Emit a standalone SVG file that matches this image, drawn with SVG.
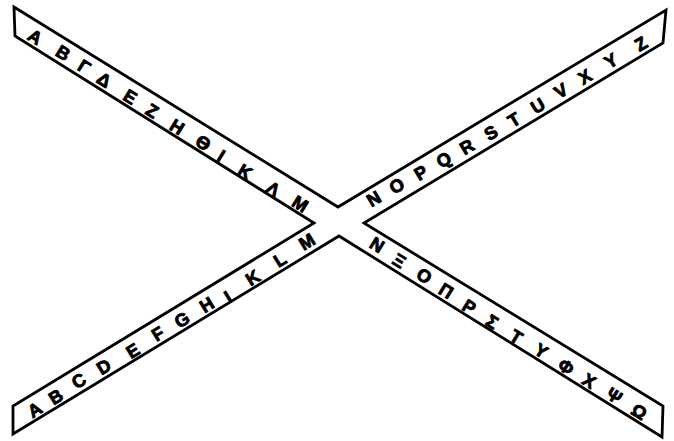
<svg xmlns="http://www.w3.org/2000/svg" width="674" height="441" viewBox="0 0 674 441">
<style>
.band{fill:none;stroke:#000;stroke-width:2.8;stroke-linejoin:miter;stroke-linecap:round}
.l{font-family:"Liberation Sans","DejaVu Sans",sans-serif;font-weight:bold;font-size:18px;text-anchor:middle;dominant-baseline:central;fill:#000;stroke:#000;stroke-width:0.9;stroke-linejoin:round}
</style>
<rect width="674" height="441" fill="#fff"/>
<g id="connectors">
<path class="band" d="M14,7 L338,207 L666,10 L663,43 L364,223 L663,406 L662,437 L339,236 L13,434 L13,406 L314,223 L15,36 Z"/>
</g>
<g id="band-greek-1">
<text class="l" x="35" y="37" transform="rotate(31.8 35 37)">Α</text>
<text class="l" x="63" y="53" transform="rotate(31.8 63 53)">Β</text>
<text class="l" x="84" y="67" transform="rotate(31.8 84 67)">Γ</text>
<text class="l" x="104" y="80" transform="rotate(31.8 104 80)">Δ</text>
<text class="l" x="130" y="97" transform="rotate(31.8 130 97)">Ε</text>
<text class="l" x="152" y="111" transform="rotate(31.8 152 111)">Ζ</text>
<text class="l" x="177" y="127" transform="rotate(31.8 177 127)">Η</text>
<text class="l" x="203" y="143" transform="rotate(31.8 203 143)">Θ</text>
<text class="l" x="221" y="156" transform="rotate(31.8 221 156)">Ι</text>
<text class="l" x="245" y="172" transform="rotate(31.8 245 172)">Κ</text>
<text class="l" x="273" y="189" transform="rotate(31.8 273 189)">Λ</text>
<text class="l" x="300" y="204" transform="rotate(31.8 300 204)">Μ</text>
</g>
<g id="band-latin-1">
<text class="l" x="374" y="199" transform="rotate(-31 374 199)">N</text>
<text class="l" x="397" y="186" transform="rotate(-31 397 186)">O</text>
<text class="l" x="421" y="173" transform="rotate(-31 421 173)">P</text>
<text class="l" x="444" y="160" transform="rotate(-31 444 160)">Q</text>
<text class="l" x="467" y="147" transform="rotate(-31 467 147)">R</text>
<text class="l" x="491" y="133" transform="rotate(-31 491 133)">S</text>
<text class="l" x="514" y="120" transform="rotate(-31 514 120)">T</text>
<text class="l" x="538" y="106" transform="rotate(-31 538 106)">U</text>
<text class="l" x="561" y="91" transform="rotate(-31 561 91)">V</text>
<text class="l" x="585" y="77" transform="rotate(-31 585 77)">X</text>
<text class="l" x="611" y="61" transform="rotate(-31 611 61)">Y</text>
<text class="l" x="641" y="44" transform="rotate(-31 641 44)">Z</text>
</g>
<g id="band-latin-2">
<text class="l" x="35" y="410" transform="rotate(-31.4 35 410)">A</text>
<text class="l" x="56" y="397" transform="rotate(-31.4 56 397)">B</text>
<text class="l" x="79" y="381" transform="rotate(-31.4 79 381)">C</text>
<text class="l" x="104" y="367" transform="rotate(-31.4 104 367)">D</text>
<text class="l" x="133" y="351" transform="rotate(-31.4 133 351)">E</text>
<text class="l" x="158" y="334" transform="rotate(-31.4 158 334)">F</text>
<text class="l" x="182" y="320" transform="rotate(-31.4 182 320)">G</text>
<text class="l" x="207" y="305" transform="rotate(-31.4 207 305)">H</text>
<text class="l" x="228" y="297" transform="rotate(-31.4 228 297)">I</text>
<text class="l" x="253" y="278" transform="rotate(-31.4 253 278)">K</text>
<text class="l" x="280" y="260" transform="rotate(-31.4 280 260)">L</text>
<text class="l" x="307" y="242" transform="rotate(-31.4 307 242)">M</text>
</g>
<g id="band-greek-2">
<text class="l" x="377" y="245" transform="rotate(31.8 377 245)">Ν</text>
<text class="l" x="399" y="261" transform="rotate(31.8 399 261)">Ξ</text>
<text class="l" x="424" y="276" transform="rotate(31.8 424 276)">Ο</text>
<text class="l" x="446" y="291" transform="rotate(31.8 446 291)">Π</text>
<text class="l" x="469" y="307" transform="rotate(31.8 469 307)">Ρ</text>
<text class="l" x="492" y="322" transform="rotate(31.8 492 322)">Σ</text>
<text class="l" x="516" y="337" transform="rotate(31.8 516 337)">Τ</text>
<text class="l" x="541" y="351" transform="rotate(31.8 541 351)">Υ</text>
<text class="l" x="566" y="367" transform="rotate(31.8 566 367)">Φ</text>
<text class="l" x="589" y="381" transform="rotate(31.8 589 381)">Χ</text>
<text class="l" x="614" y="396" transform="rotate(31.8 614 396)">Ψ</text>
<text class="l" x="639" y="412" transform="rotate(31.8 639 412)">Ω</text>
</g>
</svg>
